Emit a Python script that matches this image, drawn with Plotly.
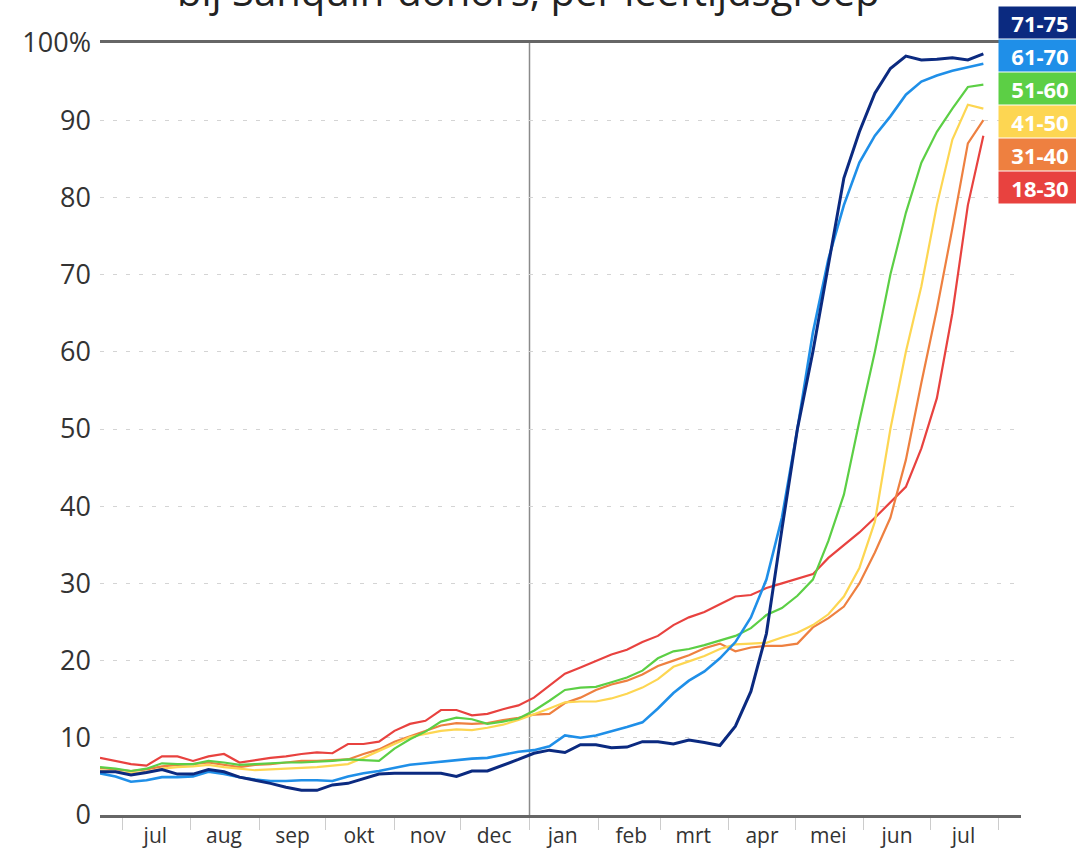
import pandas as pd
import plotly.graph_objects as go

# ---- data -------------------------------------------------------------
dates = pd.date_range("2020-06-21", periods=58, freq="7D")

groups = ["71-75", "61-70", "51-60", "41-50", "31-40", "18-30"]
colors = ["#0b2a80", "#1f8fe8", "#5ccf45", "#fdd652", "#ee8040", "#e8423f"]
widths = [3, 2.6, 2.2, 2.2, 2.2, 2.2]

v_71_75 = [5.6, 5.6, 5.2, 5.5, 5.9, 5.3, 5.3, 5.9, 5.6, 4.9, 4.5, 4.1, 3.6, 3.2, 3.2,
           3.9, 4.1, 4.7, 5.3, 5.4, 5.4, 5.4, 5.4, 5.0, 5.7, 5.7, 6.4, 7.2, 8.0, 8.4,
           8.1, 9.1, 9.1, 8.7, 8.8, 9.5, 9.5, 9.2, 9.7, 9.4, 9.0, 11.5, 16.0, 23.5,
           37.0, 50.0, 60.0, 71.0, 82.5, 88.5, 93.5, 96.7, 98.3, 97.8, 97.9, 98.1,
           97.8, 98.6]
v_61_70 = [5.4, 5.0, 4.3, 4.5, 4.9, 4.9, 5.0, 5.6, 5.3, 4.9, 4.6, 4.4, 4.4, 4.5, 4.5,
           4.4, 5.0, 5.4, 5.7, 6.1, 6.5, 6.7, 6.9, 7.1, 7.3, 7.4, 7.8, 8.2, 8.4, 8.9,
           10.3, 10.0, 10.3, 10.8, 11.4, 12.0, 13.8, 15.8, 17.4, 18.6, 20.3, 22.4,
           25.6, 30.5, 38.5, 50.0, 62.5, 72.0, 79.0, 84.5, 88.0, 90.5, 93.3, 95.0,
           95.8, 96.4, 96.9, 97.3]
v_51_60 = [6.2, 6.0, 5.7, 6.0, 6.7, 6.6, 6.6, 7.0, 6.8, 6.5, 6.6, 6.7, 6.8, 6.8, 6.9,
           7.0, 7.2, 7.1, 7.0, 8.6, 9.8, 10.8, 12.1, 12.6, 12.4, 11.8, 12.1, 12.5,
           13.5, 14.8, 16.2, 16.5, 16.6, 17.2, 17.8, 18.7, 20.3, 21.2, 21.5, 22.0,
           22.6, 23.2, 24.2, 25.9, 26.8, 28.4, 30.5, 35.5, 41.5, 51.0, 60.0, 70.0,
           78.0, 84.5, 88.5, 91.5, 94.3, 94.6]
v_41_50 = [5.8, 5.6, 5.4, 5.6, 6.0, 6.2, 6.3, 6.5, 6.2, 6.0, 5.8, 5.9, 6.0, 6.1, 6.2,
           6.4, 6.6, 7.4, 8.3, 9.3, 10.1, 10.5, 10.9, 11.1, 11.0, 11.3, 11.7, 12.3,
           13.0, 13.8, 14.6, 14.7, 14.7, 15.1, 15.7, 16.5, 17.6, 19.2, 19.9, 20.6,
           21.5, 22.1, 22.2, 22.3, 23.0, 23.6, 24.6, 26.0, 28.3, 32.0, 38.0, 50.0,
           60.0, 68.5, 79.0, 87.5, 92.0, 91.5]
v_31_40 = [6.1, 5.9, 5.7, 5.9, 6.3, 6.5, 6.6, 6.8, 6.5, 6.2, 6.5, 6.6, 6.8, 7.0, 7.0,
           7.1, 7.2, 7.9, 8.5, 9.5, 10.2, 11.0, 11.6, 11.9, 11.8, 11.9, 12.3, 12.6,
           13.0, 13.1, 14.5, 15.2, 16.2, 16.9, 17.4, 18.2, 19.3, 20.0, 20.7, 21.6,
           22.2, 21.2, 21.7, 21.9, 21.9, 22.2, 24.3, 25.5, 27.0, 30.0, 34.0, 38.5,
           46.0, 56.0, 65.5, 76.0, 87.0, 90.0]
v_18_30 = [7.4, 7.0, 6.6, 6.4, 7.6, 7.6, 7.0, 7.6, 7.9, 6.8, 7.1, 7.4, 7.6, 7.9, 8.1,
           8.0, 9.2, 9.2, 9.5, 10.9, 11.8, 12.2, 13.6, 13.6, 12.9, 13.1, 13.7, 14.2,
           15.2, 16.8, 18.3, 19.1, 20.0, 20.8, 21.4, 22.4, 23.2, 24.6, 25.6, 26.3,
           27.3, 28.3, 28.5, 29.4, 30.0, 30.6, 31.2, 33.3, 35.0, 36.6, 38.5, 40.5,
           42.5, 47.5, 54.0, 65.0, 79.0, 88.0]
series = [v_71_75, v_61_70, v_51_60, v_41_50, v_31_40, v_18_30]

month_starts = pd.date_range("2020-07-01", periods=13, freq="MS")
month_labels = ["jul", "aug", "sep", "okt", "nov", "dec", "jan", "feb", "mrt",
                "apr", "mei", "jun", "jul"]
y_ticks = [0, 10, 20, 30, 40, 50, 60, 70, 80, 90, 100]
y_labels = ["0", "10", "20", "30", "40", "50", "60", "70", "80", "90", "100%"]

title_text = "bij Sanquin-donors, per leeftijdsgroep"

# ---- figure -----------------------------------------------------------
fig = go.Figure()
for name, vals, col, w in reversed(list(zip(groups, series, colors, widths))):
    fig.add_trace(go.Scatter(x=dates, y=vals, mode="lines", name=name,
                             line=dict(color=col, width=w), hoverinfo="skip"))

fig.add_vline(x=pd.Timestamp("2021-01-01").timestamp() * 1000,
              line=dict(color="#8a8a8a", width=1.5), layer="below")

mid_months = [d + pd.Timedelta(days=15) for d in month_starts]

fig.update_layout(
    width=1076, height=852,
    margin=dict(l=100, r=55, t=43, b=37),
    paper_bgcolor="white", plot_bgcolor="white",
    showlegend=False,
    font=dict(family="Open Sans, sans-serif", color="#333333"),
    xaxis=dict(
        type="date", automargin=False,
        range=[pd.Timestamp("2020-06-21"), pd.Timestamp("2021-08-11")],
        tickvals=mid_months, ticktext=month_labels, ticks="",
        tickfont=dict(size=21, color="#333333"),
        showgrid=False, zeroline=False,
        showline=True, mirror=True, linecolor="#666666", linewidth=2.5,
        minor=dict(tick0="2020-07-01", dtick="M1", ticks="outside", ticklen=12,
                   tickcolor="#cccccc", tickwidth=1, showgrid=False),
    ),
    yaxis=dict(
        range=[0, 100], tickvals=y_ticks, ticktext=y_labels, automargin=False,
        tickfont=dict(size=27, color="#333333"),
        showgrid=True, gridcolor="#d4d4d4", griddash="4px,9px", gridwidth=1,
        zeroline=False, showline=False, ticks="", ticklabelstandoff=8,
    ),
)

# title, partly cut off at the top edge as in the source
fig.add_annotation(
    text=title_text, xref="paper", yref="paper", x=0.465, y=1.068,
    xanchor="center", yanchor="middle", showarrow=False,
    font=dict(size=40, color="#222222", family="Open Sans, sans-serif"),
)

box_y0 = 1.027
box_step = 0.0428
for i, (name, col) in enumerate(zip(groups, colors)):
    fig.add_annotation(
        text="<b>" + name + "</b>", xref="paper", yref="paper",
        x=0.975, y=box_y0 - i * box_step, xanchor="left", yanchor="middle",
        showarrow=False, bgcolor=col, width=80, height=29, borderpad=1,
        font=dict(size=22, color="white", family="Open Sans, sans-serif"),
    )

fig.write_html("out.html", config={"displayModeBar": False},
               post_script="document.body.style.margin='0';"
                           "document.body.style.overflow='hidden';")
